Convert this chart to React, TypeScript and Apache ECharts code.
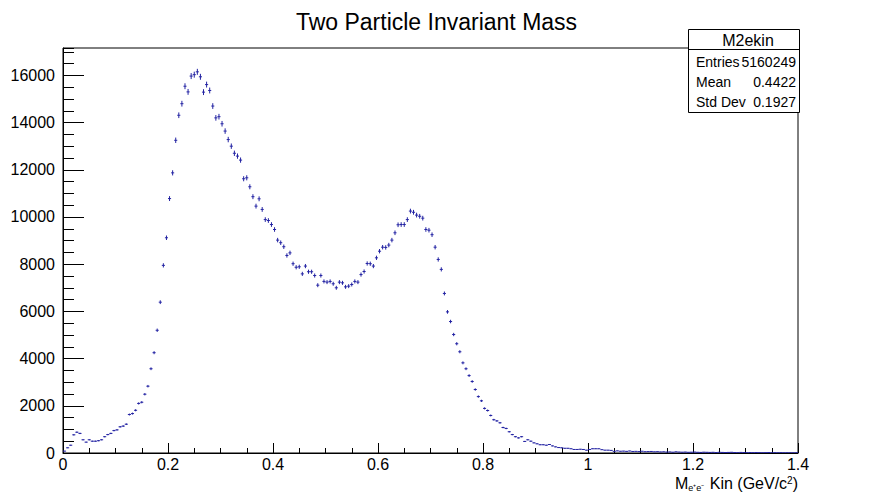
import React, { useEffect, useRef } from "react";
import * as echarts from "echarts";

// Histogram: 0 .. 1.4, bin width 1/170
const BIN_WIDTH = 1 / 170;
const X_TICKS = [0, 0.2, 0.4, 0.6, 0.8, 1, 1.2, 1.4];
const Y_TICKS = [0, 2000, 4000, 6000, 8000, 10000, 12000, 14000, 16000];

const countsRise = [
  80, 220, 330, 770, 880, 830, 560, 460, 560, 500, 500, 520, 560, 690, 780, 830,
  950, 980, 1110, 1140, 1220, 1630, 1670, 1810, 2100, 2150, 2490, 2830, 3570,
  4250, 5200, 6390,
];
const countsPeak = [
  7950, 9120, 10780, 11870, 13250, 14310, 14800, 15540, 15300, 15970, 16030,
  16150, 15940, 15290, 15610, 15360, 14700, 14200, 14250, 13950, 13640, 13280,
  13000, 12700, 12580, 12410, 11620, 11660, 11280, 10860, 10460, 10770,
];
const countsValley = [
  10320, 9890, 9850, 9680, 9470, 9020, 8910, 8740, 8370, 8480,
  8020, 7870, 7890, 7590, 7920, 7680, 7680, 7520, 7110, 7520,
  7270, 7240, 7270, 7170, 7000, 7240, 7210, 7040, 7070, 7140,
  7270, 7240, 7560, 7690, 8030, 8020, 7920, 8270, 8550, 8720,
  8710, 8810, 9020, 9330, 9670, 9680, 9680, 9890, 10250, 10200,
  10080, 10030, 9950, 9470, 9440, 9250, 8720, 8200, 7780, 6760,
  5980, 5570,
];
const countsFall = [
  5020, 4630, 4290, 3820, 3570, 3280, 3030, 2690, 2390, 2210,
  1890, 1800, 1590, 1410, 1360, 1280, 1080, 1040, 900, 780,
  690, 640, 690, 490, 560, 500, 430, 390, 350, 350,
  330, 360, 300, 260, 230, 220, 200, 200, 180, 150,
  150, 160, 150, 120, 150, 180, 180, 180, 140, 120,
  120, 110, 70,
];
const countsTail = [
  90, 75, 80, 70, 85, 65, 70, 60, 75, 55, 60, 65, 50, 55,
  45, 50, 40, 45, 35, 50, 40, 35, 40, 30, 35, 40, 30, 25, 35, 30,
  25, 30, 20, 30, 25, 20, 25, 30, 20, 15, 25, 20, 15, 20, 15, 20,
  15, 10, 15, 20, 10, 15, 10, 15, 10, 12, 10, 8, 10,
];
const counts = [...countsRise, ...countsPeak, ...countsValley, ...countsFall, ...countsTail];

const STATS_NAME = "M2ekin";
const STATS_LABELS = ["Entries", "Mean", "Std Dev"];
const STATS_VALUES = ["5160249", "0.4422", "0.1927"];

const TITLE = "Two Particle Invariant Mass";
const Y_MAX = 17160;
const COLOR = "#2323a3";
const FONT = "'Liberation Sans', Arial, Helvetica, sans-serif";

const tickRich = { t: { fontSize: 16, fontFamily: FONT, color: "#000", lineHeight: 17 } };

export default function App() {
  const ref = useRef<HTMLDivElement>(null);
  useEffect(() => {
    if (!ref.current) return;
    const chart = echarts.init(ref.current, undefined, { renderer: "svg" });
    const data = counts.map((c, i) => [(i + 0.5) * BIN_WIDTH, c, Math.sqrt(c)]);

    const statsGraphics: any[] = [
      {
        type: "rect",
        shape: { x: 688.5, y: 29.5, width: 111, height: 83 },
        style: { fill: "#fff", stroke: "#000", lineWidth: 1 },
        z: 100,
      },
      {
        type: "line",
        shape: { x1: 688.5, y1: 49.5, x2: 799.5, y2: 49.5 },
        style: { stroke: "#000", lineWidth: 1 },
        z: 101,
      },
      {
        type: "text",
        x: 748,
        y: 40,
        style: { text: STATS_NAME, fontSize: 16, fontFamily: FONT, fill: "#000", align: "center", verticalAlign: "middle" },
        z: 101,
      },
    ];
    STATS_LABELS.forEach((lab, k) => {
      statsGraphics.push({
        type: "text",
        x: 696,
        y: 62 + k * 20,
        style: { text: lab, fontSize: 14, fontFamily: FONT, fill: "#000", align: "left", verticalAlign: "middle" },
        z: 101,
      });
      statsGraphics.push({
        type: "text",
        x: 796,
        y: 62 + k * 20,
        style: { text: STATS_VALUES[k], fontSize: 14, fontFamily: FONT, fill: "#000", align: "right", verticalAlign: "middle" },
        z: 101,
      });
    });

    chart.setOption({
      animation: false,
      backgroundColor: "#fff",
      title: {
        text: TITLE,
        left: "center",
        top: 5,
        textStyle: { fontFamily: FONT, fontSize: 23, fontWeight: "normal", color: "#000" },
      },
      grid: {
        left: 63,
        right: 75,
        top: 48,
        bottom: 40,
        show: true,
        borderColor: "#000",
        borderWidth: 1,
        backgroundColor: "transparent",
      },
      xAxis: {
        type: "value",
        min: 0,
        max: 1.4,
        interval: 0.2,
        axisLine: { show: true, onZero: false, lineStyle: { color: "#000", width: 1 } },
        axisTick: { show: true, inside: true, length: 10, lineStyle: { color: "#000" } },
        minorTick: { show: true, splitNumber: 4, length: 5, lineStyle: { color: "#000" } },
        splitLine: { show: false },
        axisLabel: {
          show: true,
          fontSize: 16,
          fontFamily: FONT,
          color: "#000",
          margin: 3,
          rich: tickRich,
          formatter: (v: number) =>
            X_TICKS.some((t) => Math.abs(t - v) < 1e-9) ? `{t|${Math.round(v * 10) / 10}}` : "",
        },
      },
      yAxis: [
        {
          type: "value",
          min: 0,
          max: Y_MAX,
          interval: 2000,
          axisLine: { show: true, onZero: false, lineStyle: { color: "#000", width: 1 } },
          axisTick: { show: true, inside: true, length: 21, lineStyle: { color: "#000" } },
          splitLine: { show: false },
          axisLabel: {
            show: true,
            fontSize: 16,
            fontFamily: FONT,
            color: "#000",
            margin: 8,
            showMaxLabel: false,
            rich: tickRich,
            formatter: (v: number) => (Y_TICKS.includes(v) ? `{t|${v}}` : ""),
          },
        },
        {
          type: "value",
          min: 0,
          max: Y_MAX,
          interval: 500,
          position: "left",
          axisLine: { show: false },
          axisTick: { show: true, inside: true, length: 11, lineStyle: { color: "#000" } },
          splitLine: { show: false },
          axisLabel: { show: false },
        },
      ],
      graphic: [
        {
          type: "text",
          right: 75,
          top: 474,
          style: {
            text: "{m|M}{s|e⁺e⁻}{m| Kin (GeV/c}{p|2}{m|)}",
            fontSize: 16,
            fontFamily: FONT,
            fill: "#000",
            rich: {
              m: { fontSize: 16, fontFamily: FONT, lineHeight: 17, verticalAlign: "middle" },
              s: { fontSize: 9, fontFamily: FONT, lineHeight: 10, verticalAlign: "bottom", padding: [9, 1, 0, 0] },
              p: { fontSize: 10, fontFamily: FONT, lineHeight: 10, verticalAlign: "top" },
            },
          },
        },
        ...statsGraphics,
      ],
      series: [
        {
          type: "custom",
          xAxisIndex: 0,
          yAxisIndex: 0,
          clip: true,
          encode: { x: 0, y: 1 },
          data,
          renderItem: (params: any, api: any) => {
            const x = api.value(0);
            const y = api.value(1);
            const e = api.value(2);
            const c = api.coord([x, y]);
            const lo = api.coord([x, y - e]);
            const hi = api.coord([x, y + e]);
            const l = api.coord([x - BIN_WIDTH / 2, y]);
            const r = api.coord([x + BIN_WIDTH / 2, y]);
            return {
              type: "group",
              children: [
                {
                  type: "line",
                  shape: { x1: c[0], y1: lo[1], x2: c[0], y2: hi[1] },
                  style: { stroke: COLOR, lineWidth: 1 },
                },
                {
                  type: "line",
                  shape: { x1: l[0], y1: c[1], x2: r[0], y2: c[1] },
                  style: { stroke: COLOR, lineWidth: 1 },
                },
              ],
            };
          },
        },
      ],
    });
    return () => chart.dispose();
  }, []);
  return (
    <div
      ref={ref}
      style={{ position: "fixed", left: 0, top: 0, width: 873, height: 493, background: "#fff" }}
    />
  );
}
